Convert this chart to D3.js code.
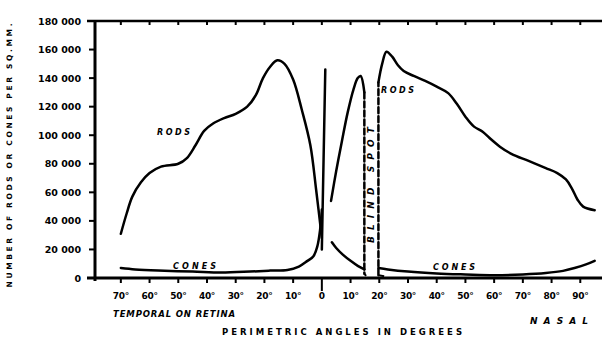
<!DOCTYPE html>
<html>
<head>
<meta charset="utf-8">
<script src="https://cdn.jsdelivr.net/npm/d3@7"></script>
<style>
  html, body { margin: 0; padding: 0; background: #fff; }
  svg { display: block; }
  text { font-family: "DejaVu Sans", sans-serif; font-weight: bold; fill: #000; }
</style>
</head>
<body>
<svg id="chart" width="602" height="344"></svg>
<script>
// ---- data (degrees: negative = temporal, positive = nasal) ----
const tickDegrees = [-70,-60,-50,-40,-30,-20,-10,0,10,20,30,40,50,60,70,80,90];
const tickLabels  = ["70°","60°","50°","40°","30°","20°","10°","0","10°","20°","30°","40°","50°","60°","70°","80°","90°"];
const yTickValues = [0,20000,40000,60000,80000,100000,120000,140000,160000,180000];
const yTickLabels = ["0","20 000","40 000","60 000","80 000","100 000","120 000","140 000","160 000","180 000"];

const rodsTemporalDeg = [-70,-68,-66,-63,-60,-56,-50,-47,-44,-41,-38,-34,-30,-26,-23,-20.5,-18,-15.5,-13,-10,-7,-4,-2,0];
const rodsTemporalVal = [31000,45000,57000,67000,73500,78000,80000,84000,93000,103000,108000,112000,115000,120000,128000,140000,148000,152500,150000,139000,118000,93000,62000,28000];

const rodsNasalInnerDeg = [3.2,5,7,9,11,12.5,13.5,14.8];
const rodsNasalInnerVal = [54000,75000,96000,116000,132000,140000,141500,130000];

const rodsNasalOuterDeg = [19.7,21,22.5,24.5,26.5,28.5,32,36,40,44,47,50,53,56,59,62,66,72,78,82,85,87,89,91,95];
const rodsNasalOuterVal = [137000,150000,158500,155000,149000,145000,141500,138000,134000,129500,122000,113000,106000,102500,97000,92000,87000,82000,77000,73500,69000,63000,55000,50000,47500];

const conesTemporalDeg = [-70,-65,-57,-45,-35,-25,-18,-12,-8,-5,-3,-1.6,-0.6,0];
const conesTemporalVal = [7000,6000,5200,4500,3800,4500,5200,5600,8000,12000,15000,22000,34000,48000];

const fovealSpikeDeg = [0,1.2];
const fovealSpikeVal = [20000,146000];

const conesNasalInnerDeg = [3.5,5,7.5,10,12.5,14.8];
const conesNasalInnerVal = [25000,21000,16000,12000,8500,6000];

const conesNasalOuterDeg = [19.7,23,30,40,50,60,70,78,84,88,92,95];
const conesNasalOuterVal = [7000,6000,4500,3200,2500,2000,2500,3500,5000,7000,9500,12000];

const blindSpotDeg = [14.8,19.7];

// ---- drawing ----
const svg = d3.select("#chart");
const x = d3.scaleLinear().domain([-79, 100]).range([95, 609]);
const y = d3.scaleLinear().domain([0, 180000]).range([278, 21]);
const axisX = 95;

const zip = (a, b) => a.map((d, i) => [d, b[i]]);
const line = d3.line().x(d => x(d[0])).y(d => y(d[1])).curve(d3.curveCatmullRom.alpha(0.5));
const straight = d3.line().x(d => x(d[0])).y(d => y(d[1]));

function drawCurve(pts, gen = line, dash = null) {
  svg.append("path").attr("d", gen(pts)).attr("fill", "none")
    .attr("stroke", "#000").attr("stroke-width", 2.5)
    .attr("stroke-linejoin", "round").attr("stroke-linecap", "round")
    .attr("stroke-dasharray", dash);
}

// Curves
drawCurve(zip(rodsTemporalDeg, rodsTemporalVal));
drawCurve(zip(rodsNasalInnerDeg, rodsNasalInnerVal));
drawCurve(zip(rodsNasalOuterDeg, rodsNasalOuterVal));
drawCurve(zip(conesTemporalDeg, conesTemporalVal));
drawCurve(zip(fovealSpikeDeg, fovealSpikeVal), straight);
drawCurve(zip(conesNasalInnerDeg, conesNasalInnerVal));
drawCurve(zip(conesNasalOuterDeg, conesNasalOuterVal));

// Blind spot dashed boundaries
drawCurve([[blindSpotDeg[0], rodsNasalInnerVal[rodsNasalInnerVal.length - 1]], [blindSpotDeg[0], 3000]], straight, "6,3");
drawCurve([[blindSpotDeg[1], 2000], [blindSpotDeg[1], rodsNasalOuterVal[0]]], straight, "6,3");
svg.append("path")
  .attr("d", straight([[blindSpotDeg[0], 3000], [blindSpotDeg[0] + 0.6, 1500]]))
  .attr("stroke", "#000").attr("stroke-width", 2).attr("fill", "none");
svg.append("path")
  .attr("d", straight([[blindSpotDeg[1], 2000], [blindSpotDeg[1] + 2, 1200]]))
  .attr("stroke", "#000").attr("stroke-width", 2).attr("fill", "none");

// Bottom axis
const gx = svg.append("g").attr("transform", `translate(0,${y(0)})`);
gx.append("line").attr("x1", axisX - 8).attr("x2", 602).attr("y1", 0).attr("y2", 0)
  .attr("stroke", "#000").attr("stroke-width", 3);
tickDegrees.forEach((d, i) => {
  gx.append("line").attr("x1", x(d)).attr("x2", x(d)).attr("y1", 0).attr("y2", d === 0 ? 13 : 5)
    .attr("stroke", "#000").attr("stroke-width", 2);
  gx.append("text").attr("x", x(d)).attr("y", 21).attr("text-anchor", "middle")
    .attr("font-size", 9).attr("letter-spacing", -0.3).text(tickLabels[i]);
});

// Top frame line with ticks
const gt = svg.append("g").attr("transform", `translate(0,${y(180000)})`);
gt.append("line").attr("x1", axisX - 8).attr("x2", 602).attr("y1", 0).attr("y2", 0)
  .attr("stroke", "#000").attr("stroke-width", 2.5);
tickDegrees.forEach(d => {
  gt.append("line").attr("x1", x(d)).attr("x2", x(d)).attr("y1", 0).attr("y2", 4)
    .attr("stroke", "#000").attr("stroke-width", 2);
});

// Left axis
const gy = svg.append("g").attr("transform", `translate(${axisX},0)`);
gy.append("line").attr("x1", 0).attr("x2", 0).attr("y1", y(0) + 3).attr("y2", y(180000))
  .attr("stroke", "#000").attr("stroke-width", 3);
yTickValues.forEach((v, i) => {
  gy.append("line").attr("x1", -6).attr("x2", 0).attr("y1", y(v)).attr("y2", y(v))
    .attr("stroke", "#000").attr("stroke-width", 2);
  gy.append("text").attr("x", -14).attr("y", y(v) + 3.5).attr("text-anchor", "end")
    .attr("font-size", 9.5).text(yTickLabels[i]);
});

// Y axis title
svg.append("text")
  .attr("transform", `translate(12,${(y(0) + y(180000)) / 2 + 6}) rotate(-90)`)
  .attr("text-anchor", "middle").attr("font-size", 7.5)
  .attr("textLength", 264).attr("lengthAdjust", "spacing")
  .text("NUMBER OF RODS OR CONES PER SQ.MM.");

// Annotations
function label(txt, x0, yb, len, size = 8, italic = true) {
  svg.append("text").attr("x", x0).attr("y", yb).attr("font-size", size)
    .attr("font-style", italic ? "italic" : "normal")
    .attr("textLength", len).attr("lengthAdjust", "spacing").text(txt);
}
label("RODS", 157, 135, 33);
label("RODS", 381, 93, 33);
label("CONES", 173, 269, 43);
label("CONES", 433, 270, 42);
label("TEMPORAL ON RETINA", 113, 317, 122, 8.5);
label("PERIMETRIC ANGLES IN DEGREES", 222, 335, 240, 8.5, false);
label("NASAL", 530, 324, 58, 9);

svg.append("text")
  .attr("transform", `translate(${(x(blindSpotDeg[0]) + x(blindSpotDeg[1])) / 2 + 3},243) rotate(-90)`)
  .attr("font-size", 9).attr("font-style", "italic")
  .attr("textLength", 116).attr("lengthAdjust", "spacing")
  .text("BLIND SPOT");
</script>
</body>
</html>
